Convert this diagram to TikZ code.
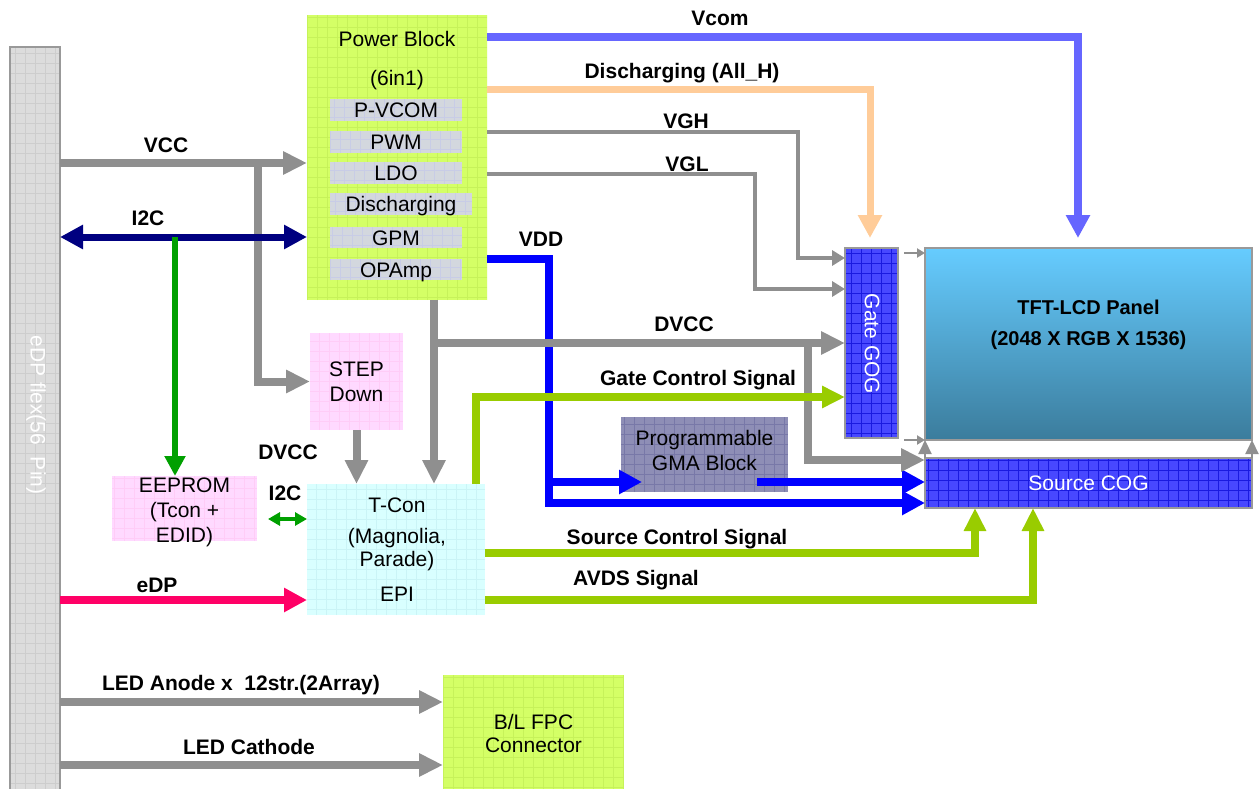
\documentclass[tikz,border=0pt]{standalone}
\usepackage{fontspec}
\setmainfont{Liberation Sans}
\usetikzlibrary{arrows.meta, positioning}

\definecolor{linegray}{HTML}{8F8F8F}
\definecolor{bordergray}{HTML}{999999}
\definecolor{navyline}{HTML}{000080}
\definecolor{eegreen}{HTML}{00A000}
\definecolor{edppink}{HTML}{FF0066}
\definecolor{vcomblue}{HTML}{6666FF}
\definecolor{dischorange}{HTML}{FFCC99}
\definecolor{vddblue}{HTML}{0000FF}
\definecolor{siggreen}{HTML}{99CC00}
\definecolor{pwrfill}{HTML}{D4FF66}
\definecolor{pwrgrid}{HTML}{C6F25A}
\definecolor{subfill}{HTML}{D3D7DE}
\definecolor{subgrid}{HTML}{C8CCE6}
\definecolor{pinkfill}{HTML}{FFD9FF}
\definecolor{pinkgrid}{HTML}{FFCCF7}
\definecolor{cyanfill}{HTML}{D9FFFF}
\definecolor{cyangrid}{HTML}{CAF4F6}
\definecolor{gmafill}{HTML}{8E8EB6}
\definecolor{gmagrid}{HTML}{7878A8}
\definecolor{cogfill}{HTML}{4848FF}
\definecolor{coggrid}{HTML}{1A1AE0}
\definecolor{flexfill}{HTML}{DCDCDC}
\definecolor{flexgrid}{HTML}{CDCDCD}
\definecolor{paneltop}{HTML}{66CCFF}
\definecolor{panelbot}{HTML}{3B7C9C}

\tikzset{
  every node/.style={font=\fontsize{21}{25}\selectfont, inner sep=0pt, outer sep=0pt},
  txt/.style={anchor=base, yshift=-7.5pt},
  lbl/.style={anchor=base, yshift=-7.5pt, font=\bfseries\fontsize{21}{25}\selectfont},
  gridfill/.style={path picture={\draw[#1, line width=0.6pt] (path picture bounding box.south west) grid[step=10pt] (path picture bounding box.north east);}},
  flexbox/.style={fill=flexfill, draw=bordergray, line width=2.5pt, gridfill=flexgrid},
  pwrbox/.style={fill=pwrfill, gridfill=pwrgrid},
  subbox/.style={fill=subfill, gridfill=subgrid, minimum height=21.5pt, text height=15pt, text depth=0pt},
  pinkbox/.style={fill=pinkfill, gridfill=pinkgrid},
  cyanbox/.style={fill=cyanfill, gridfill=cyangrid},
  gmabox/.style={fill=gmafill, gridfill=gmagrid},
  cogbox/.style={fill=cogfill, draw=bordergray, line width=2.5pt, gridfill=coggrid, text=white},
  panelbox/.style={top color=paneltop, bottom color=panelbot, draw=bordergray, line width=2.5pt},
  gline/.style={draw=linegray, line width=8pt, -{Triangle[length=24pt,width=22pt]}},
  thinline/.style={draw=linegray, line width=4.5pt, -{Triangle[length=13pt,width=15pt]}},
  smallline/.style={draw=linegray, line width=2pt, -{Triangle[length=8pt,width=9pt]}},
  upline/.style={draw=linegray, line width=2pt, -{Triangle[length=14pt,width=13pt]}},
  i2cline/.style={draw=navyline, line width=7pt, {Triangle[length=23pt,width=23pt]}-{Triangle[length=23pt,width=23pt]}},
  eeline/.style={draw=eegreen, line width=6pt, -{Triangle[length=20pt,width=20pt]}},
  i2csmall/.style={draw=eegreen, line width=3.5pt, {Triangle[length=12pt,width=13pt]}-{Triangle[length=12pt,width=13pt]}},
  edpline/.style={draw=edppink, line width=8pt, -{Triangle[length=23pt,width=23pt]}},
  vcomline/.style={draw=vcomblue, line width=8pt, -{Triangle[length=23pt,width=23pt]}},
  dischline/.style={draw=dischorange, line width=7pt, -{Triangle[length=23pt,width=23pt]}},
  vddline/.style={draw=vddblue, line width=8pt, -{Triangle[length=23pt,width=23pt]}},
  sigline/.style={draw=siggreen, line width=8pt, -{Triangle[length=23pt,width=21pt]}},
}

\begin{document}
\begin{tikzpicture}[x=1pt, y=-1pt]
    \useasboundingbox (0,0) rectangle (1260,789);
    \clip (0,0) rectangle (1260,789);

    \node[flexbox, minimum width=50pt, minimum height=752pt] (flex) at (35,423) {};
    \node[rotate=-90, text=white] (flextxt) at (36,415) {eDP flex(56~~Pin)};

    \node[pwrbox, minimum width=180pt, minimum height=285pt] (pb) at (397,157.5) {};
    \node[txt] (pbtitle) at (397,39) {Power Block};
    \node[txt] (pbsub) at (397,78) {(6in1)};
    \node[subbox, minimum width=132pt] (pvcom) at (396,110) {P-VCOM};
    \node[subbox, minimum width=132pt] (pwm) at (396,142) {PWM};
    \node[subbox, minimum width=132pt] (ldo) at (396,173) {LDO};
    \node[subbox, minimum width=142pt] (dis) at (401,204) {Discharging};
    \node[subbox, minimum width=132pt] (gpm) at (396,237.5) {GPM};
    \node[subbox, minimum width=132pt] (opamp) at (396,269.5) {OPAmp};

    \node[pinkbox, minimum width=93pt, minimum height=97pt, align=center] (step) at (356.5,381.5) {STEP\\Down};
    \node[pinkbox, minimum width=145pt, minimum height=65pt] (eeprom) at (184.5,508.5) {};
    \node[align=center] (eepromtxt) at (184.5,512) {EEPROM\\(Tcon +\\EDID)};

    \node[cyanbox, minimum width=178pt, minimum height=131pt] (tcon) at (396,549.5) {};
    \node[txt] (tcontitle) at (397,505) {T-Con};
    \node[txt] (tconsub) at (397,536) {(Magnolia,};
    \node[txt] (tconsub2) at (397,559) {Parade)};
    \node[txt] (epi) at (397,594) {EPI};

    \node[gmabox, minimum width=167pt, minimum height=75pt] (gma) at (704.5,454.5) {};
    \node[align=center] (gmatxt) at (704.5,450.5) {Programmable\\GMA Block};

    \node[cogbox, minimum width=53pt, minimum height=190pt] (gog) at (871.5,343) {};
    \node[rotate=-90, text=white] (gogtxt) at (872,344) {Gate GOG};
    \node[panelbox, minimum width=327pt, minimum height=192pt] (panel) at (1088.5,344) {};
    \node[align=center, font=\bfseries\fontsize{20}{31}\selectfont] (paneltxt) at (1088.5,324.6) {TFT-LCD Panel\\(2048 X RGB X 1536)};
    \node[cogbox, minimum width=327pt, minimum height=50pt] (scog) at (1088.5,483) {Source COG};

    \node[pwrbox, minimum width=181pt, minimum height=124pt] (blfpc) at (533.5,737) {};
    \node[align=center, font=\fontsize{21}{23}\selectfont] (blfpctxt) at (533.5,733.4) {B/L FPC\\Connector};

    \draw[vddline] (pb.east |- 0,259) -| (549,503) -- (scog.west |- 0,503);
    \coordinate (vddsplit) at (549,482);
    \draw[vddline, shorten >=-21pt] (vddsplit) -- (gma.west |- vddsplit);
    \coordinate (gmaout) at (757,482);
    \draw[vddline] (gmaout) -- (scog.west |- gmaout);

    \draw[vcomline, shorten >=10pt] (pb.east |- 0,37) -| (panel.north -| 1078,0);
    \draw[dischline, shorten >=10pt] (pb.east |- 0,90) -| (gog.north -| 870,0);
    \draw[thinline] (pb.east |- 0,132) -| (798,258) -- (gog.west |- 0,258);
    \draw[thinline] (pb.east |- 0,174) -| (755,289) -- (gog.west |- 0,289);

    \coordinate (vccsplit) at (258,163);
    \draw[gline] (flex.east |- vccsplit) -- (pb.west |- vccsplit);
    \draw[gline] (vccsplit) |- (step.west);
    \draw[gline] (step.south) -- (step.south |- tcon.north);

    \coordinate (dvccsplit) at (434,343);
    \draw[gline] (pb.south -| dvccsplit) -- (tcon.north -| dvccsplit);
    \draw[gline] (dvccsplit) -- (gog.west |- dvccsplit);
    \coordinate (dvccdrop) at (808,343);
    \draw[gline] (dvccdrop) |- ([yshift=-2pt]scog.north west);

    \coordinate (i2csplit) at (175,237);
    \draw[i2cline] (flex.east |- i2csplit) -- (pb.west |- i2csplit);
    \draw[eeline] (i2csplit) -- (i2csplit |- eeprom.north);
    \draw[i2csmall, shorten <=11pt] (eeprom.east |- 0,519) -- (tcon.west |- 0,519);
    \draw[edpline] (flex.east |- 0,600) -- (tcon.west |- 0,600);

    \draw[sigline] (tcon.north -| 476,0) |- (gog.west |- 0,397);
    \draw[sigline] (tcon.east |- 0,553) -| (scog.south -| 975,0);
    \draw[sigline] (tcon.east |- 0,600) -| (scog.south -| 1033,0);

    \draw[smallline, shorten <=6pt] (gog.east |- 0,253) -- (panel.west |- 0,253);
    \draw[smallline, shorten <=6pt] (gog.east |- panel.south) -- (panel.south west);
    \draw[upline] (scog.north west) -- (panel.south west);
    \draw[upline] (scog.north east) -- (panel.south east);

    \draw[gline] (flex.east |- 0,702) -- (blfpc.west |- 0,702);
    \draw[gline] (flex.east |- 0,765) -- (blfpc.west |- 0,765);

    \node[lbl] (vcomlbl) at (720,18) {Vcom};
    \node[lbl] (dischlbl) at (682,71) {Discharging (All\_H)};
    \node[lbl] (vghlbl) at (686,121) {VGH};
    \node[lbl] (vgllbl) at (687,164) {VGL};
    \node[lbl] (vddlbl) at (541,239) {VDD};
    \node[lbl] (vcclbl) at (166,145) {VCC};
    \node[lbl] (i2clbl) at (148,218) {I2C};
    \node[lbl] (dvcclbl) at (288,452) {DVCC};
    \node[lbl] (i2cslbl) at (285,493) {I2C};
    \node[lbl] (dvccrlbl) at (684,324) {DVCC};
    \node[lbl] (gatelbl) at (698,378) {Gate Control Signal};
    \node[lbl] (srclbl) at (677,537) {Source Control Signal};
    \node[lbl] (avdslbl) at (636,578) {AVDS Signal};
    \node[lbl] (edplbl) at (157,585) {eDP};
    \node[lbl] (anodelbl) at (241,683) {LED Anode x~~12str.(2Array)};
    \node[lbl] (cathlbl) at (249,747) {LED Cathode};
\end{tikzpicture}
\end{document}
